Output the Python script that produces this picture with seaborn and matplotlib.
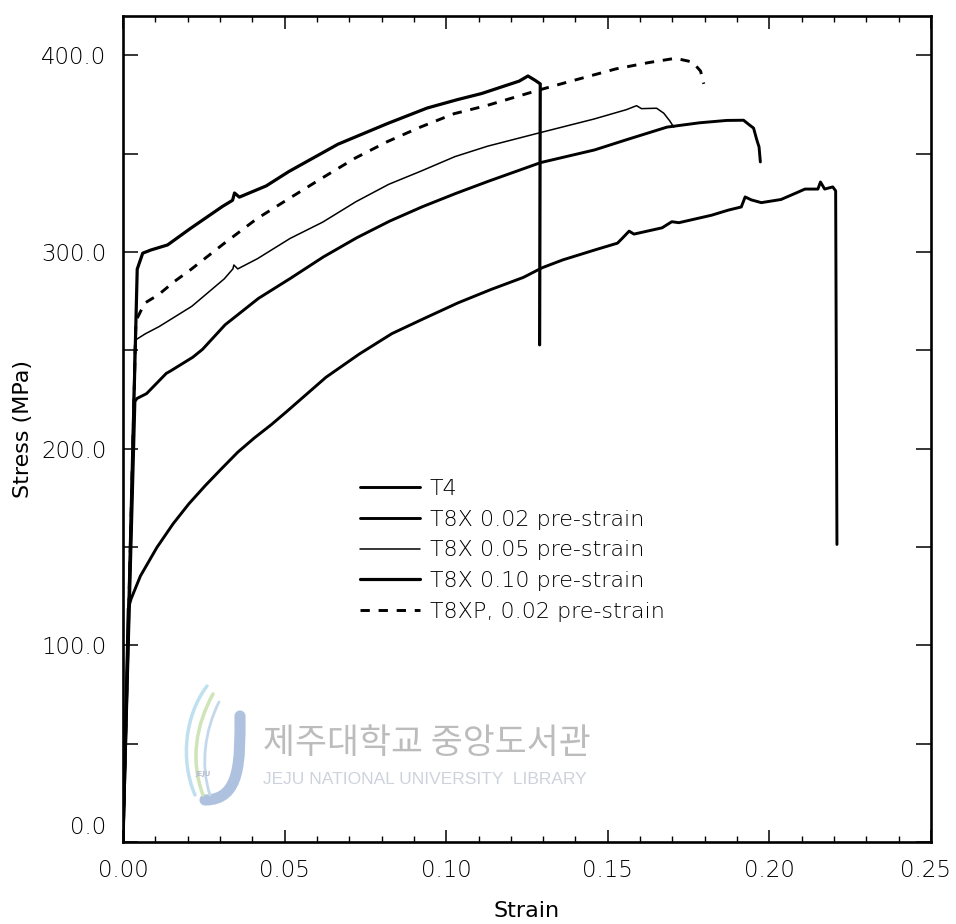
import numpy as np
import pandas as pd
import matplotlib
matplotlib.use("Agg")
import matplotlib.pyplot as plt
import matplotlib.transforms as mtransforms
from matplotlib.path import Path
from matplotlib.patches import PathPatch
from matplotlib.ticker import MultipleLocator, FormatStrFormatter
import seaborn as sns

# ---- engineering stress-strain data (strain, stress in MPa) ----
t4_strain = [0.0, 0.0016, 0.0025, 0.0054, 0.0105, 0.0155, 0.0204, 0.0255, 0.0306, 0.0355,
             0.0406, 0.0458, 0.0506, 0.0628, 0.0731, 0.0832, 0.0933, 0.1036, 0.1138, 0.1239,
             0.1297, 0.1361, 0.1465, 0.1530, 0.1545, 0.1566, 0.1581, 0.1668, 0.1698, 0.1720,
             0.1821, 0.1873, 0.1913, 0.1925, 0.1944, 0.1975, 0.2036, 0.2088, 0.2110, 0.2150,
             0.2158, 0.2171, 0.2196, 0.2205, 0.2209]
t4_stress = [0.0, 118.5, 123.6, 135.3, 149.8, 161.8, 172.0, 181.3, 190.0, 198.2,
             205.4, 212.1, 218.8, 236.3, 248.1, 258.5, 266.3, 274.1, 280.9, 287.1,
             292.0, 296.0, 301.3, 304.5, 307.0, 310.6, 309.1, 312.3, 315.4, 314.9,
             318.7, 321.3, 322.9, 328.0, 326.5, 325.1, 326.7, 330.4, 332.0, 332.0,
             335.6, 332.0, 333.1, 331.1, 151.3]

t8x02_strain = [0.0, 0.0037, 0.0043, 0.0073, 0.0134, 0.0146, 0.0216, 0.0246, 0.0316, 0.0419,
                0.0519, 0.0620, 0.0724, 0.0825, 0.0926, 0.1030, 0.1131, 0.1293, 0.1459, 0.1560,
                0.1683, 0.1784, 0.1868, 0.1920, 0.1939, 0.1951, 0.1961, 0.1968, 0.1972]
t8x02_stress = [0.0, 224.0, 225.5, 228.0, 238.3, 239.4, 246.5, 250.5, 263.0, 276.4,
                286.7, 297.5, 307.3, 315.7, 323.0, 329.8, 336.0, 345.5, 351.9, 357.2,
                363.5, 365.7, 366.9, 367.0, 364.5, 363.0, 357.0, 353.4, 345.8]

t8x05_strain = [0.0, 0.0036, 0.0039, 0.0069, 0.0112, 0.0213, 0.0313, 0.0340, 0.0343, 0.0355,
                0.0416, 0.0517, 0.0618, 0.0721, 0.0822, 0.0923, 0.1027, 0.1128, 0.1291, 0.1457,
                0.1558, 0.1589, 0.1604, 0.1651, 0.1673, 0.1692, 0.1704]
t8x05_stress = [0.0, 251.8, 255.3, 258.4, 262.1, 272.4, 286.3, 291.4, 293.4, 291.4,
                296.6, 306.9, 315.2, 325.6, 334.4, 341.2, 348.5, 353.8, 360.7, 367.6,
                372.4, 374.4, 372.9, 373.1, 370.6, 366.6, 363.5]

t8x10_strain = [0.0, 0.0044, 0.0061, 0.0086, 0.0138, 0.0208, 0.0308, 0.0339, 0.0345, 0.0360,
                0.0443, 0.0513, 0.0665, 0.0818, 0.0941, 0.1033, 0.1110, 0.1226, 0.1253, 0.1275,
                0.1291, 0.1289]
t8x10_stress = [0.0, 291.3, 299.4, 301.0, 303.6, 311.9, 323.2, 326.3, 330.0, 327.9,
                333.6, 340.9, 354.8, 365.3, 373.2, 377.4, 380.6, 386.9, 389.5, 387.3,
                385.5, 252.8]

t8xp_strain = [0.0, 0.0040, 0.0067, 0.0089, 0.0110, 0.0159, 0.0210, 0.0310, 0.0414, 0.0514,
               0.0615, 0.0719, 0.0819, 0.0920, 0.1024, 0.1126, 0.1288, 0.1371, 0.1525, 0.1626,
               0.1709, 0.1762, 0.1787, 0.1797]
t8xp_stress = [0.0, 265.0, 274.0, 276.2, 278.3, 285.0, 291.1, 304.0, 316.9, 327.2,
               337.5, 347.8, 356.2, 363.5, 370.3, 374.5, 382.4, 386.2, 393.1, 396.3,
               398.5, 396.6, 392.0, 385.5]

series_labels = ["T4", "T8X 0.02 pre-strain", "T8X 0.05 pre-strain",
                 "T8X 0.10 pre-strain", "T8XP, 0.02 pre-strain"]

x_ticks = [0.00, 0.05, 0.10, 0.15, 0.20, 0.25]
y_ticks = [0.0, 100.0, 200.0, 300.0, 400.0]

# ---- style ----
sns.set_style("ticks")
plt.rcParams["font.family"] = ["DejaVu Sans"]
plt.rcParams["font.weight"] = "light"
plt.rcParams["text.color"] = "black"
plt.rcParams["axes.labelcolor"] = "black"
plt.rcParams["xtick.color"] = "black"
plt.rcParams["ytick.color"] = "black"

W, H = 956, 924
fig = plt.figure(figsize=(W / 100, H / 100), dpi=100)
ax_l, ax_r, ax_t, ax_b = 123, 931, 16, 842
ax = fig.add_axes([ax_l / W, 1 - ax_b / H, (ax_r - ax_l) / W, (ax_b - ax_t) / H])


def fx(px):
    return px / W


def fy(py):
    return 1 - py / H


curves = [
    (t4_strain, t4_stress, 2.1, "-"),
    (t8x02_strain, t8x02_stress, 2.1, "-"),
    (t8x05_strain, t8x05_stress, 1.1, "-"),
    (t8x10_strain, t8x10_stress, 2.3, "-"),
    (t8xp_strain, t8xp_stress, 2.1, (0, (3.2, 3.0))),
]

for (xs, ys, lw, ls), lab in zip(curves, series_labels):
    df = pd.DataFrame({"Strain": xs, "Stress": ys})
    sns.lineplot(data=df, x="Strain", y="Stress", sort=False, estimator=None,
                 color="black", lw=lw, linestyle=ls, label=lab, ax=ax)

ax.set_xlim(0, 0.25)
ax.set_ylim(0, 420)
ax.set_xticks(x_ticks)
ax.set_yticks(y_ticks)
ax.xaxis.set_minor_locator(MultipleLocator(0.01))
ax.yaxis.set_minor_locator(MultipleLocator(50))
ax.xaxis.set_major_formatter(FormatStrFormatter("%.2f"))
ax.yaxis.set_major_formatter(FormatStrFormatter("%.1f"))

ax.tick_params(axis="x", which="major", direction="in", top=True, bottom=True,
               length=9, width=1.1, pad=12, labelsize=16.5, labelcolor="black")
ax.tick_params(axis="x", which="minor", direction="in", top=True, bottom=True,
               length=4.5, width=1.0)
ax.tick_params(axis="y", which="both", direction="in", left=True, right=True,
               length=11, width=1.1, pad=12, labelsize=16.5, labelcolor="black")

for sp in ax.spines.values():
    sp.set_linewidth(1.9)
    sp.set_color("black")

ax.set_xlabel("Strain", fontsize=16, labelpad=14, color="black")
ax.set_ylabel("Stress (MPa)", fontsize=16, labelpad=6, color="black")

# the zero stress label sits slightly above the corner, the last strain label hugs the edge
zero_lbl = ax.yaxis.get_major_ticks()[0].label1
zero_lbl.set_transform(zero_lbl.get_transform() +
                       mtransforms.ScaledTranslation(0, 12 / 72, fig.dpi_scale_trans))
last_lbl = ax.xaxis.get_major_ticks()[-1].label1
last_lbl.set_transform(last_lbl.get_transform() +
                       mtransforms.ScaledTranslation(-4 / 72, 0, fig.dpi_scale_trans))

leg = ax.legend(loc="upper left", bbox_to_anchor=(fx(360), fy(479)),
                bbox_transform=fig.transFigure, frameon=False, fontsize=16,
                handlelength=2.7, handletextpad=0.45, labelspacing=0.48,
                borderpad=0, borderaxespad=0)
for t in leg.get_texts():
    t.set_color("black")

# ---- library stamp ----
fig.text(fx(263), fy(743), "제주대학교 중앙도서관", family=["Noto Sans CJK KR"],
         fontsize=25, color="#bcbcbc", weight="medium", va="center", ha="left", zorder=0)
fig.text(fx(263), fy(779), "JEJU NATIONAL UNIVERSITY  LIBRARY",
         family=["Liberation Sans"], fontsize=12.5, color="#cdd2dc",
         va="center", ha="left", zorder=0)


def stroke(points, color, lw):
    verts = [(fx(px), fy(py)) for px, py in points]
    codes = [Path.MOVETO] + [Path.CURVE4] * (len(verts) - 1)
    fig.patches.append(PathPatch(Path(verts, codes), transform=fig.transFigure,
                                 fill=False, edgecolor=color, lw=lw,
                                 capstyle="round", zorder=0))


stroke([(240, 716), (240, 760), (241, 800), (205, 800)], "#aec2df", 8)
stroke([(207, 686), (185, 715), (180, 760), (195, 795)], "#bfe0ee", 2.5)
stroke([(213, 694), (196, 725), (190, 760), (203, 795)], "#cfe4b8", 2.5)
stroke([(219, 702), (205, 730), (200, 765), (210, 795)], "#c4d8ec", 2.0)
fig.text(fx(203), fy(774), "JEJU", fontsize=5, color="#b8c0cc", ha="center",
         va="center", weight="bold", zorder=0)

fig.savefig("out.png", dpi=100)
